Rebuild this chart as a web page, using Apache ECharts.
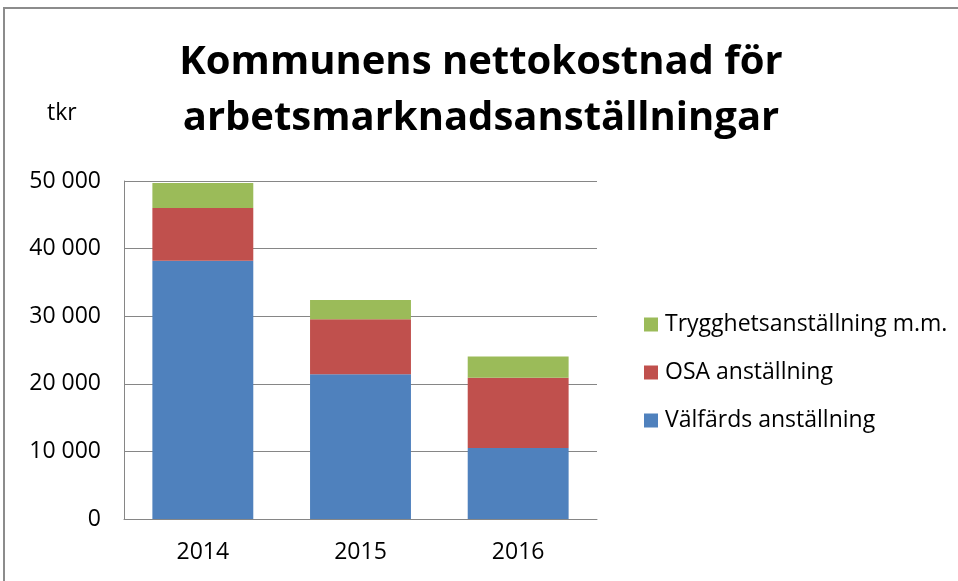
<!DOCTYPE html>
<html><head><meta charset="utf-8">
<script src="https://cdn.jsdelivr.net/npm/echarts@6/dist/echarts.min.js"></script>
<style>html,body{margin:0;padding:0;background:#fff}#c{width:958px;height:581px}</style>
</head><body><div id="c"></div>
<script>
const categories = ['2014', '2015', '2016'];
const valfards = [38200, 21400, 10500];
const osa = [7800, 8150, 10400];
const trygghet = [3700, 2850, 3150];
const seriesNames = ['Välfärds anställning', 'OSA anställning', 'Trygghetsanställning m.m.'];
const yTicks = [0, 10000, 20000, 30000, 40000, 50000];

const FONT = 'Open Sans';
const chart = echarts.init(document.getElementById('c'), null, {renderer: 'canvas'});
const fmt = v => String(v).replace(/\B(?=(\d{3})+(?!\d))/g, ' ');
chart.setOption({
  backgroundColor: '#fff',
  animation: false,
  textStyle: {fontFamily: FONT},
  title: {
    text: 'Kommunens nettokostnad för\narbetsmarknadsanställningar',
    left: 476, top: 30, textAlign: 'center',
    textStyle: {fontFamily: FONT, fontWeight: 'bold', fontSize: 40, lineHeight: 56, color: '#000'}
  },
  graphic: [
    {type: 'rect', shape: {x: 4, y: 8, width: 1200, height: 1200}, style: {fill: 'none', stroke: '#8c8c8c', lineWidth: 2}, silent: true},
    {type: 'text', x: 47, y: 113, style: {text: 'tkr', font: '23px ' + FONT, fill: '#000', verticalAlign: 'middle'}}
  ],
  legend: {
    orient: 'vertical', left: 639, top: 308,
    data: [seriesNames[2], seriesNames[1], seriesNames[0]],
    itemWidth: 14, itemHeight: 14, itemGap: 25,
    icon: 'rect',
    textStyle: {fontSize: 23, color: '#000', fontFamily: FONT, padding: [0, 0, 0, 2]}
  },
  grid: {left: 124, right: 361, top: 181, bottom: 62, containLabel: false},
  xAxis: {
    type: 'category', data: categories,
    axisLine: {lineStyle: {color: '#868686'}},
    axisTick: {show: false},
    axisLabel: {fontSize: 23, color: '#000', margin: 22, fontFamily: FONT}
  },
  yAxis: {
    type: 'value', min: yTicks[0], max: yTicks[yTicks.length - 1], interval: 10000,
    axisLine: {show: true, lineStyle: {color: '#868686'}},
    axisTick: {show: false},
    splitLine: {lineStyle: {color: '#868686'}},
    axisLabel: {fontSize: 23, color: '#000', margin: 23, formatter: fmt, fontFamily: FONT}
  },
  series: [
    {name: seriesNames[0], type: 'bar', stack: 's', data: valfards, barWidth: '64%', itemStyle: {color: '#4F81BD'}},
    {name: seriesNames[1], type: 'bar', stack: 's', data: osa, itemStyle: {color: '#C0504D'}},
    {name: seriesNames[2], type: 'bar', stack: 's', data: trygghet, itemStyle: {color: '#9BBB59'}}
  ]
});
</script></body></html>
